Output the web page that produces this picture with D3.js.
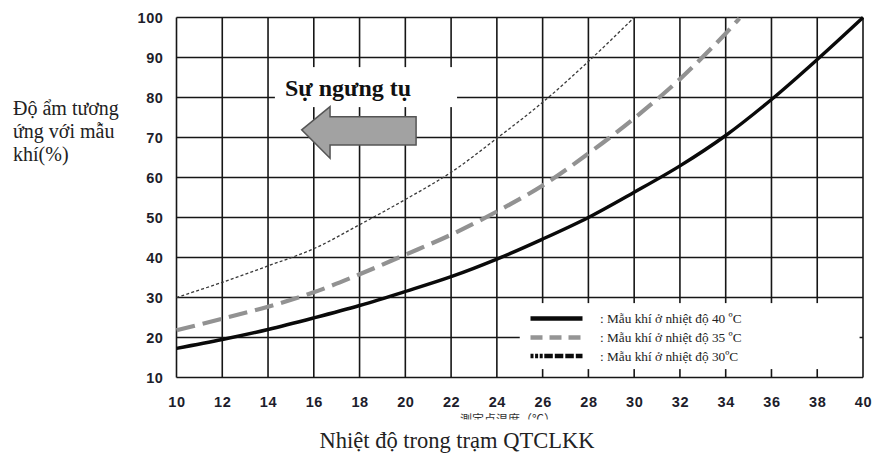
<!DOCTYPE html>
<html>
<head>
<meta charset="utf-8">
<script src="https://cdn.jsdelivr.net/npm/d3@7"></script>
<style>
  html, body { margin: 0; padding: 0; background: #fff; }
  svg { display: block; }
</style>
</head>
<body>
<svg id="chart" width="874" height="456"></svg>
<script>
// ---- data ----
const xTicks = [10, 12, 14, 16, 18, 20, 22, 24, 26, 28, 30, 32, 34, 36, 38, 40];
const yTicks = [10, 20, 30, 40, 50, 60, 70, 80, 90, 100];

const temp40 = [10, 12, 14, 16, 18, 20, 22, 24, 26, 28, 30, 32, 34, 36, 38, 40];
const rh40   = [17.3, 19.5, 22, 24.9, 28, 31.5, 35.2, 39.6, 44.6, 50, 56.3, 62.9, 70.5, 79.5, 89.5, 100];

const temp35 = [10, 12, 14, 16, 18, 20, 22, 24, 26, 28, 30, 32, 34, 34.6];
const rh35   = [21.8, 24.7, 27.7, 31.3, 35.8, 40.7, 45.7, 51.5, 58, 66, 74.8, 84.6, 96, 99.8];

const temp30 = [10, 12, 14, 16, 18, 20, 22, 24, 26, 28, 30];
const rh30   = [30, 33.8, 37.9, 42.2, 48.2, 54.5, 61.3, 69.8, 78.8, 89, 100];

const legendLabels = [": Mẫu khí ở nhiệt độ 40 ºC", ": Mẫu khí ở nhiệt độ 35 ºC", ": Mẫu khí ở nhiệt độ 30ºC"];
const yTitleLines = ["Độ ẩm tương", "ứng với mẫu", "khí(%)"];
const xTitle = "Nhiệt độ trong trạm QTCLKK";
const xTitleJa = "測定点温度（℃）";
const annotationText = "Sự ngưng tụ";

// ---- drawing ----
const svg = d3.select("#chart");
const x = d3.scaleLinear().domain([10, 40]).range([176.5, 863]);
const y = d3.scaleLinear().domain([10, 100]).range([377.5, 17.5]);

const gridColor = "#161616";
const g = svg.append("g");

// grid
g.append("g").selectAll("line").data(xTicks).join("line")
  .attr("x1", d => x(d)).attr("x2", d => x(d))
  .attr("y1", y(100)).attr("y2", y(10))
  .attr("stroke", gridColor).attr("stroke-width", 1.6);
g.append("g").selectAll("line").data(yTicks).join("line")
  .attr("x1", x(10)).attr("x2", x(40))
  .attr("y1", d => y(d)).attr("y2", d => y(d))
  .attr("stroke", gridColor).attr("stroke-width", 1.6);

// axes labels
const tickFont = "'Liberation Sans', Arial, sans-serif";
const xAxis = g.append("g").attr("transform", `translate(0,${y(10) + 19.5})`)
  .call(d3.axisBottom(x).tickValues(xTicks).tickSize(0).tickFormat(d3.format("d")));
xAxis.select(".domain").remove();
xAxis.selectAll("text").attr("font-family", tickFont).attr("font-size", 14.5)
  .attr("font-weight", "bold").attr("fill", "#1d1d2b").attr("letter-spacing", 0.6)
  .attr("dy", "0.71em").attr("y", 0);

const yAxis = g.append("g").attr("transform", `translate(${x(10) - 13},0)`)
  .call(d3.axisLeft(y).tickValues(yTicks).tickSize(0).tickFormat(d3.format("d")));
yAxis.select(".domain").remove();
yAxis.selectAll("text").attr("font-family", tickFont).attr("font-size", 14.5)
  .attr("font-weight", "bold").attr("fill", "#1d1d2b").attr("letter-spacing", 0.6).attr("x", 0);

// curves
const line = d3.line().x(d => x(d[0])).y(d => y(d[1])).curve(d3.curveCatmullRom.alpha(0.5));
const zip = (a, b) => a.map((v, i) => [v, b[i]]);

g.append("path").datum(zip(temp30, rh30)).attr("d", line)
  .attr("fill", "none").attr("stroke", "#3a3a3a").attr("stroke-width", 1.3)
  .attr("stroke-dasharray", "3,2.2");
g.append("path").datum(zip(temp35, rh35)).attr("d", line)
  .attr("fill", "none").attr("stroke", "#929292").attr("stroke-width", 4.2)
  .attr("stroke-dasharray", "19,8");
g.append("path").datum(zip(temp40, rh40)).attr("d", line)
  .attr("fill", "none").attr("stroke", "#0a0a0a").attr("stroke-width", 3.4);

// annotation: label box + arrow
g.append("rect")
  .attr("x", x(14.3)).attr("y", y(87.6))
  .attr("width", x(22.26) - x(14.3)).attr("height", y(77.6) - y(87.6))
  .attr("fill", "#fff");
g.append("text").attr("x", x(14.74)).attr("y", y(80.5))
  .attr("font-family", "'Liberation Serif', 'Times New Roman', serif")
  .attr("font-weight", "bold").attr("font-size", 24).attr("fill", "#111")
  .text(annotationText);

const arrowPts = [[15.47, 71.9], [16.71, 77.7], [16.71, 75.2], [20.47, 75.2],
                  [20.47, 68.1], [16.71, 68.1], [16.71, 64.8]];
g.append("path")
  .attr("d", d3.line().x(d => x(d[0])).y(d => y(d[1]))(arrowPts) + "Z")
  .attr("fill", "#a2a2a2").attr("stroke", "#555").attr("stroke-width", 1.5)
  .attr("stroke-linejoin", "miter");

// legend
g.append("rect")
  .attr("x", x(25.0)).attr("y", y(28.6))
  .attr("width", x(39.85) - x(25.0)).attr("height", y(12.1) - y(28.6))
  .attr("fill", "#fff");
const legendStyles = [
  { stroke: "#0a0a0a", width: 4.5, dash: null },
  { stroke: "#959595", width: 4.5, dash: "12,7" },
  { stroke: "#0a0a0a", width: 4.5, dash: "3,1.6,3,1.6,3,1.6,8.5,2,8.5,2,8.5,2,8.5" }
];
const legY = [318.6, 337.5, 356];
const lg = g.append("g");
legendStyles.forEach((s, i) => {
  lg.append("line").attr("x1", 530.5).attr("x2", 582.5)
    .attr("y1", legY[i]).attr("y2", legY[i])
    .attr("stroke", s.stroke).attr("stroke-width", s.width)
    .attr("stroke-dasharray", s.dash);
  lg.append("text").attr("x", 600).attr("y", legY[i] + 4.5)
    .attr("font-family", "'Liberation Serif', 'Times New Roman', serif")
    .attr("font-size", 13.3).attr("fill", "#222")
    .text(legendLabels[i]);
});

// y title
const yt = svg.append("text")
  .attr("font-family", "'Liberation Serif', 'Times New Roman', serif")
  .attr("font-size", 20).attr("fill", "#222");
yTitleLines.forEach((t, i) => {
  yt.append("tspan").attr("x", 13).attr("y", 115 + i * 23).text(t);
});

// clipped Japanese original axis title
svg.append("clipPath").attr("id", "jaclip").append("rect")
  .attr("x", 400).attr("y", 408).attr("width", 200).attr("height", 11.5);
svg.append("text").attr("clip-path", "url(#jaclip)")
  .attr("x", 508).attr("y", 423.5).attr("text-anchor", "middle")
  .attr("font-family", "'Noto Sans CJK JP', sans-serif")
  .attr("font-size", 12).attr("fill", "#333")
  .text(xTitleJa);

// x title
svg.append("text").attr("x", 457).attr("y", 447.5).attr("text-anchor", "middle")
  .attr("font-family", "'Liberation Serif', 'Times New Roman', serif")
  .attr("font-size", 22.5).attr("fill", "#222")
  .text(xTitle);
</script>
</body>
</html>
